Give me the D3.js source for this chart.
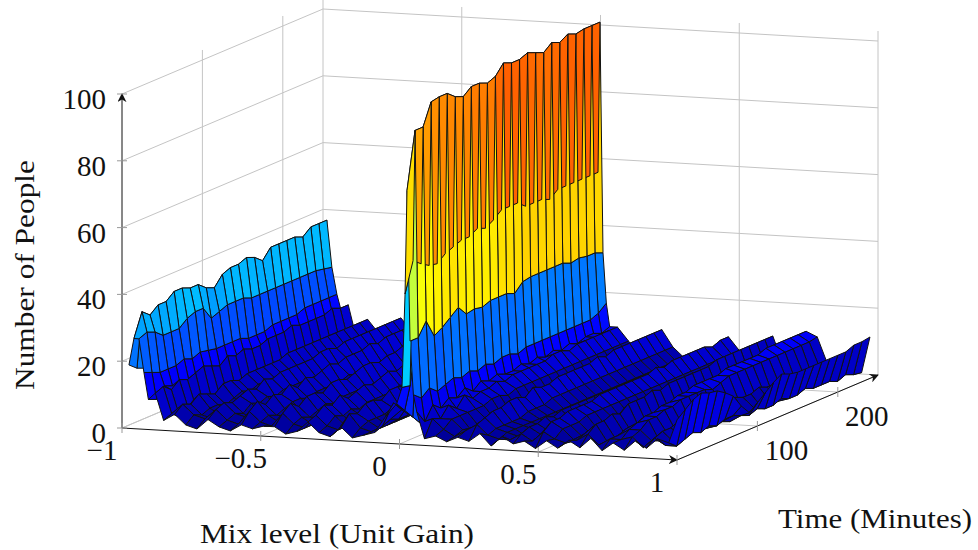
<!DOCTYPE html>
<html>
<head>
<meta charset="utf-8">
<script src="https://d3js.org/d3.v7.min.js"></script>
<style>
  html, body { margin: 0; padding: 0; background: #fff; }
  text { font-family: "Liberation Serif", serif; fill: #111; }
</style>
</head>
<body>
<div id="chart"></div>
<script>
const zTicks = [0, 20, 40, 60, 80, 100];
const mixTicks = [-1, -0.5, 0, 0.5, 1];
const timeTicks = [100, 200];
const timeEnd = 250;

// minutes along each row of the surface
const timeLevels = [0, 10, 20, 30, 40, 50, 60, 70, 80, 90, 100, 110, 120, 130, 140, 150, 160, 170, 180, 190, 200, 210, 220, 230, 240];

// mix level of each row, read from where the rows end at the back
const mixLevels = [-0.975, -0.957, -0.939, -0.921, -0.905, -0.88,
  -0.85, -0.81, -0.77, -0.73, -0.69, -0.65, -0.61, -0.57, -0.53, -0.49, -0.45,
  -0.41, -0.37, -0.33, -0.29, -0.25, -0.21, -0.17, -0.13, -0.09, -0.05, -0.01,
  0.009, 0.02, 0.027, 0.038, 0.05, 0.062,
  0.09, 0.13, 0.17, 0.21, 0.25, 0.29, 0.33, 0.37, 0.41, 0.45, 0.49, 0.53,
  0.57, 0.61, 0.65, 0.69, 0.73, 0.77, 0.81, 0.85, 0.89, 0.93, 0.97, 1];

// number of people, one line per mix level, one value per time level
const people = [
  [19,17,16,18,17,18,17,16,18,17,16,18,17,16,17,16,17,18,16,17,16,18,17,16,17],
  [27,34,32,34,34,36,36,35,35,33,32,35,36,36,37,36,34,37,37,37,37,36,38,38,38],
  [27,28,27,25,25,25,27,28,28,24,25,26,26,26,25,25,25,25,25,25,25,25,25,24.5,24],
  [17,16,15,15,15,16,15,16,15.5,15,15,15,15,14,14,14,15,15,15,15,16,16,16,16,16],
  [9,8,11,10,9,10,9,11,10,9,10,11,10,10,11,10,11,10,11,10,11,10,11,10,11],
  [11,12,10,12,11,12,13,12,11,13,12,13,12,12,13,13,13,14,13,13,13,13,14,13,13],
  [3,4,2,4,3,2,3,3,2,3,3,2,3,3,2,3,3,2,3,3,2,3,3,3,3],
  [5,7,6,8,7,6,8,8,7,8,8,8,8,8,9,9,9,9,9,9,9,9,9,9,9],
  [2,4,3,4,4,3,4,5,4,5,5,5,5,5,5,5,5,5,5,5,5,5,5,5,5],
  [1,3,2,2,2,2,2,2,2,2,2,2,2,2,2,2,2,2,2,2,2,2,3,2,2],
  [4,6,7,6,7,8,7,9,8,9,9,9,9,9,10,10,9,10,10,10,10,10,10,10,10],
  [2,3,4,3,5,4,5,4,5,5,5,5,5,5,6,5,6,5,6,6,5,6,6,6,6],
  [1,2,3,1,2,2,1,2,2,2,1,2,2,2,2,2,2,2,2,3,2,2,3,2,2],
  [3,6,8,6,8,7,9,7,9,8,9,10,9,10,10,10,11,10,11,11,11,11,11,11,11],
  [2,3,4,3,4,5,5,4,5,5,5,5,6,5,6,5,6,6,5,6,6,6,6,6,6],
  [3,2,2,3,2,2,2,3,2,2,2,2,3,2,2,3,2,2,3,2,2,2,3,2,2],
  [3,6,8,6,8,8,7,9,9,8,9,10,10,9,10,10,11,10,11,11,11,11,11,11,11],
  [1,3,4,3,4,5,4,5,5,5,5,5,5,6,5,6,6,5,6,6,6,6,6,6,6],
  [2,2,2,3,2,1,2,2,2,2,2,2,2,3,2,2,2,2,3,2,2,3,2,2,2],
  [5,6,8,7,9,7,8,9,8,9,10,9,10,10,10,11,10,11,11,11,11,12,11,12,12],
  [2,3,5,4,5,4,5,5,5,5,6,5,6,6,5,6,6,6,6,6,6,6,6,6,6],
  [1,2,2,2,3,2,2,2,2,2,2,2,3,2,2,2,3,2,2,2,3,2,2,2,2],
  [4,7,6,8,8,7,9,9,8,10,9,10,10,10,11,10,11,11,11,12,11,12,12,11,12],
  [1,3,4,4,4,5,4,5,5,5,5,6,6,5,6,6,6,6,6,6,6,6,7,6,6],
  [2,2,2,2,2,2,2,2,2,2,3,2,2,2,2,2,3,2,2,3,2,2,2,2,3],
  [3,4,5,4,4,5,5,5,5,6,5,6,6,6,6,6,6,6,6,7,6,7,6,6,7],
  [8,11,8,9,7,9,9,8,10,9,10,10,9,10,11,10,11,11,11,11,12,11,12,12,12],
  [12,9,6,3,3,2,3,3,2,3,3,2,3,3,2,3,3,2,3,3,2,3,3,2,3],
  [17,16.5,34,34,33,34,33,34,34,33,34,34,33,34,33,34,34,34,33,34,34,34,33,34,34],
  [45,54,52,50.5,50,52,53,54,54,55.5,54.5,56,58,58,58,56,56,56,55,57,57,57,57,57,57],
  [76,93,93,99.5,100,100,98,97,99,99,98,99,102,101,101,102,101,100,102,101,102.5,101.5,102,102,102],
  [31,31,35,29.5,31,33,35,32,32.5,32,33,33,33,32,34.5,35,35,35,35,35,34,34.5,34,34,33],
  [15,13,15,13,14,15,14,15,14,15,14,15,15,14,15,15,15,15,15,15,15,15,15,16,18],
  [10,6,10,8,10,9,11,9,11,10,11,10,10,11,10,11,10,11,10,11,10,11,11,10,11],
  [2,7,6,9,7,10,8,9,9,10,9,10,10,10,10,10,11,11,10,11,11,11,11,11,11],
  [3,4,6,6,6,6,6,7,7,6,7,7,7,7,7,7,7,7,7,7,7,7,7,7,7],
  [1.5,2,3,2,2,3,2,2,2,2,2,2,3,2,2,2,3,2,2,2,3,2,2,2,3],
  [3,4,4,5,4,5,4,5,5,5,5,5,6,5,6,6,6,6,6,6,6,6,6,6,6],
  [2,6,7,8,8,9,9,8,10,9,9,10,10,10,10,10,11,10,11,11,11,11,11,11,11],
  [4.5,3,4,4,4,4,5,5,5,6,6,6,6,6,6,6,6,6,6,6,6,6,6,6,6],
  [1,2,3,3,3,3,3,3,3,3,3,3,3,3,3,3,3,3,3,3,3,3,3,3,3],
  [4,2,2,1,2,2,2,2,2,2,2,2,2,2,2,2,2,2,2,2,2,2,2,2,2],
  [2,4,5,5,6,5,6,6,6,6,6,6,6,6,6,6,6,6,6,6,6,6,6,6,6],
  [3,2,3,3,3,3,3,3,3,3,3,3,3,3,3,3,3,3,3,4,3,3,4,3,3],
  [1,5,7,7,8,8,8,8,9,9,9,9,9,9,9,10,9,10,10,10,10,10,9,10,10],
  [3.5,3,5,5,5,6,6,6,6,6,6,6,6,6,6,6,6,6,6,6,6,6,6,6,6],
  [1.5,2,2,2,2,2,2,3,2,2,2,2,2,2,2,2,2,2,2,2,2,2,3,2,3],
  [4,3,4,5,4,5,5,5,5,5,5,5,5,6,5,6,6,6,6,6,6,6,6,6,6],
  [2,5,7,7,8,7,9,9,9,10,9,10,10,10,10,10,10,11,11,11,11,11,11,11,11],
  [5,2,2,2,3,2,2,2,2,2,2,2,3,2,2,2,2,2,2,2,2,2,2,2,2],
  [1.5,4,4,5,5,6,6,5,6,6,6,6,6,6,6,6,7,6,6,7,6,6,7,6,7],
  [4,4,6,7,8,8,9,9,10,10,11,11,11,11,12,12,12,12,12,13,13,13,13,13,13],
  [2,5,6,8,8,9,9,10,10,10,10,9,10,11,11,11,11,11,11,11,11,11,11,11,11.5],
  [5,2,3,2,3,3,3,3,3,2,3,3,3,3,3,3,3,2,3,3,2,3,2,3,3],
  [3,5,6,6,7,7,6,7,6,6,6,7,6,6,7,6,6,6,6,6,6,6,6,6,6],
  [6,3,3,4,4,4,3,3,3,2,3,2,3,2,3,2,3,2,3,3,3,3,3,3,3],
  [5,3,4,5,4,5,4,5,5,4,3,4,3,3,4,3,3,4,3,3,3,2,3,2,1.6],
  [12,14,16,17,16,15.6,14,12,8,5,7,9,11,12.5,11.5,11,11,11,11,11,11,11,12,12,12.4]
];

// pgfplots jet colormap, stops are fractions of the colour range
const jetStops = [0, 0.125, 0.375, 0.625, 0.875, 1];
const jetColors = ["#000080", "#0000ff", "#00ffff", "#ffff00", "#ff0000", "#800000"];
const colorTop = 102;

const width = 978;
const height = 550;

const svg = d3.select("#chart").append("svg")
  .attr("width", width)
  .attr("height", height)
  .style("display", "block");

// the three axes each shift a point on screen, fitted to the box corners
const mixX = d3.scaleLinear().domain([-1, 1]).range([122, 677]);
const mixY = d3.scaleLinear().domain([-1, 1]).range([428, 460]);
const timeX = d3.scaleLinear().domain([0, timeEnd]).range([0, 201]);
const timeY = d3.scaleLinear().domain([0, timeEnd]).range([0, -85]);
const zY = d3.scaleLinear().domain([0, 100]).range([0, -334]);

const color = d3.scaleLinear()
  .domain(jetStops.map(d => d * colorTop))
  .range(jetColors)
  .interpolate(d3.interpolateRgb);

function project(mix, time, z) {
  return [mixX(mix) + timeX(time), mixY(mix) + timeY(time) + zY(z)];
}

const line3 = d3.line();

function seg(a, b) {
  return line3([project(...a), project(...b)]);
}

// Grid on the two walls and the floor
const grid = svg.append("g")
  .attr("fill", "none")
  .attr("stroke", "#c4c4c4")
  .attr("stroke-width", 1);

zTicks.forEach(z => {
  grid.append("path").attr("d", seg([-1, 0, z], [-1, timeEnd, z]));
  grid.append("path").attr("d", seg([-1, timeEnd, z], [1, timeEnd, z]));
});
timeTicks.forEach(t => {
  grid.append("path").attr("d", seg([-1, t, 0], [-1, t, 103]));
  grid.append("path").attr("d", seg([-1, t, 0], [1, t, 0]));
});
mixTicks.forEach(m => {
  grid.append("path").attr("d", seg([m, timeEnd, 0], [m, timeEnd, 103]));
  grid.append("path").attr("d", seg([m, 0, 0], [m, timeEnd, 0]));
});

// Surface, one flat facet per grid cell, sorted back to front
const facets = [];
d3.range(mixLevels.length - 1).forEach(i => {
  d3.range(timeLevels.length - 1).forEach(j => {
    const corners = [[i, j], [i, j + 1], [i + 1, j + 1], [i + 1, j]]
      .map(([a, b]) => [mixLevels[a], timeLevels[b], people[a][b]]);
    const mean = d3.mean(corners, c => c[2]);
    const depth = 98.5 * d3.mean(corners, c => c[0])
      - 2.18 * d3.mean(corners, c => c[1])
      + 0.527 * mean;
    facets.push({ corners, mean, depth });
  });
});
facets.sort((a, b) => a.depth - b.depth);

const closedLine = d3.line().curve(d3.curveLinearClosed);

svg.append("g")
  .selectAll("path")
  .data(facets)
  .join("path")
  .attr("d", d => closedLine(d.corners.map(c => project(...c))))
  .attr("fill", d => color(d.mean))
  .attr("stroke", "#111")
  .attr("stroke-width", 1)
  .attr("stroke-linejoin", "round");

// Axes
svg.append("defs").append("marker")
  .attr("id", "tip")
  .attr("viewBox", "0 0 10 10")
  .attr("refX", 9)
  .attr("refY", 5)
  .attr("markerWidth", 9)
  .attr("markerHeight", 9)
  .attr("markerUnits", "userSpaceOnUse")
  .attr("orient", "auto")
  .append("path")
  .attr("d", "M0,0 L10,5 L0,10 L3,5 Z")
  .attr("fill", "#111");

const axes = svg.append("g")
  .attr("fill", "none")
  .attr("stroke", "#111")
  .attr("stroke-width", 1);
[[[-1, 0, 0], [1, 0, 0]], [[1, 0, 0], [1, timeEnd, 0]], [[-1, 0, 0], [-1, 0, 100]]].forEach(([a, b]) => {
  axes.append("path").attr("d", seg(a, b)).attr("marker-end", "url(#tip)");
});

// Tick marks
const ticks = svg.append("g").attr("stroke", "#999").attr("stroke-width", 1);
zTicks.forEach(z => {
  const [px, py] = project(-1, 0, z);
  ticks.append("line").attr("x1", px - 5).attr("x2", px + 5).attr("y1", py).attr("y2", py);
});
mixTicks.forEach(m => {
  const [px, py] = project(m, 0, 0);
  ticks.append("line").attr("x1", px).attr("x2", px).attr("y1", py - 5).attr("y2", py + 5);
});
timeTicks.forEach(t => {
  const [px, py] = project(1, t, 0);
  ticks.append("line").attr("x1", px).attr("x2", px).attr("y1", py - 5).attr("y2", py + 5);
});

// Tick labels
const fmt = d => String(d).replace("-", "\u2212");

svg.append("g")
  .attr("font-size", 29)
  .attr("text-anchor", "end")
  .selectAll("text")
  .data(zTicks)
  .join("text")
  .attr("x", 106)
  .attr("y", d => project(-1, 0, d)[1] + 15)
  .text(fmt);

svg.append("g")
  .attr("font-size", 29)
  .attr("text-anchor", "middle")
  .selectAll("text")
  .data(mixTicks)
  .join("text")
  .attr("x", d => project(d, 0, 0)[0] - 20)
  .attr("y", d => project(d, 0, 0)[1] + 32)
  .text(fmt);

svg.append("g")
  .attr("font-size", 29)
  .attr("text-anchor", "middle")
  .selectAll("text")
  .data(timeTicks)
  .join("text")
  .attr("x", d => project(1, d, 0)[0] + 29)
  .attr("y", d => project(1, d, 0)[1] + 34)
  .text(d => d);

// Axis labels
svg.append("text")
  .attr("x", 200)
  .attr("y", 543)
  .attr("font-size", 28)
  .attr("textLength", 274)
  .attr("lengthAdjust", "spacingAndGlyphs")
  .text("Mix level (Unit Gain)");

svg.append("text")
  .attr("x", 778)
  .attr("y", 528)
  .attr("font-size", 28)
  .attr("textLength", 194)
  .attr("lengthAdjust", "spacingAndGlyphs")
  .text("Time (Minutes)");

svg.append("text")
  .attr("transform", "translate(34,390) rotate(-90)")
  .attr("font-size", 28)
  .attr("textLength", 230)
  .attr("lengthAdjust", "spacingAndGlyphs")
  .text("Number of People");
</script>
</body>
</html>
